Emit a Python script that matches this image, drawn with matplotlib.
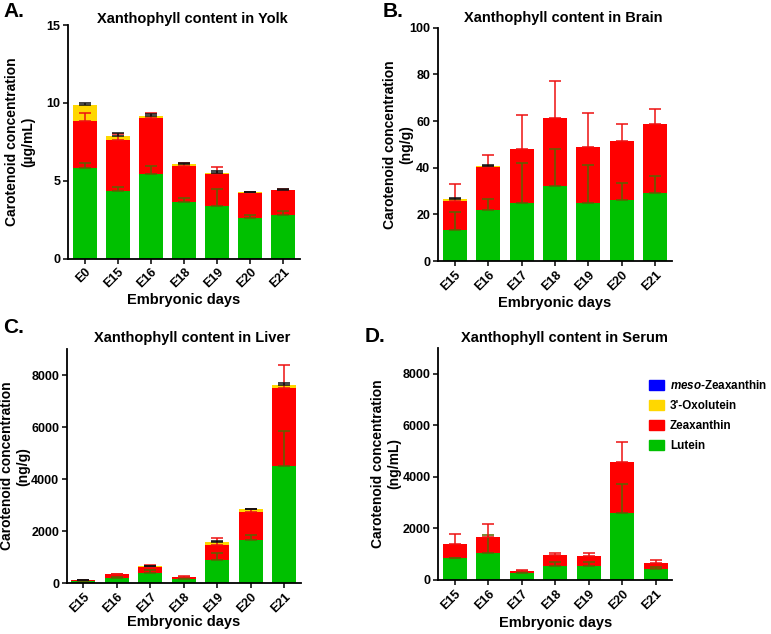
import numpy as np
import matplotlib.pyplot as plt
from matplotlib.patches import Patch

plt.rcParams['font.family'] = ['Liberation Sans', 'DejaVu Sans']
plt.rcParams['font.weight'] = 'bold'
plt.rcParams['mathtext.fontset'] = 'custom'
plt.rcParams['mathtext.it'] = 'Liberation Sans:italic:bold'
plt.rcParams['mathtext.rm'] = 'Liberation Sans:bold'

# ---- data (segment heights) ----
yolk_days = ["E0", "E15", "E16", "E18", "E19", "E20", "E21"]
yolk_lut = [5.83, 4.34, 5.43, 3.62, 3.40, 2.60, 2.80]
yolk_zea = [3.00, 3.27, 3.57, 2.34, 2.05, 1.62, 1.57]
yolk_oxo = [1.03, 0.28, 0.15, 0.10, 0.06, 0.04, 0.05]
yolk_lut_err = [0.32, 0.27, 0.49, 0.24, 1.06, 0.21, 0.22]
yolk_zea_err = [0.49, 0.41, 0.33, 0.15, 0.42, 0.05, 0.08]
yolk_oxo_err = [0.13, 0.15, 0.11, 0.07, 0.08, 0.03, 0.06]

days = ["E15", "E16", "E17", "E18", "E19", "E20", "E21"]

brain_lut = [13.1, 21.7, 24.9, 32.3, 25.0, 26.0, 29.1]
brain_zea = [12.6, 18.6, 23.0, 29.0, 23.9, 25.3, 29.8]
brain_oxo = [1.0, 0.5, 0.2, 0.2, 0.0, 0.0, 0.0]
brain_lut_err = [7.9, 5.0, 17.1, 15.8, 16.1, 7.6, 7.2]
brain_zea_err = [7.2, 5.0, 14.8, 15.8, 14.7, 7.6, 6.4]
brain_oxo_err = [0.3, 0.2, 0.0, 0.0, 0.0, 0.0, 0.0]

liver_lut = [60, 206, 386, 167, 875, 1672, 4520]
liver_zea = [55, 128, 231, 77, 604, 1068, 2980]
liver_oxo = [5, 10, 26, 5, 103, 102, 140]
liver_lut_err = [15, 30, 128, 20, 295, 193, 1345]
liver_zea_err = [10, 20, 90, 25, 244, 120, 900]
liver_oxo_err = [5, 0, 20, 0, 26, 13, 50]

serum_lut = [839, 1032, 258, 555, 542, 2581, 413]
serum_zea = [542, 645, 103, 400, 400, 1974, 232]
serum_oxo = [0, 0, 0, 0, 0, 0, 0]
serum_lut_err = [26, 710, 65, 129, 142, 1122, 103]
serum_zea_err = [387, 478, 26, 103, 90, 800, 129]
serum_oxo_err = [0, 0, 0, 0, 0, 0, 0]

meso = [0, 0, 0, 0, 0, 0, 0]

GREEN, RED, YELLOW, BLUE = "#00c000", "#ff0000", "#ffd700", "#0000ff"
GREEN_ERR, RED_ERR, OXO_ERR = "#5a6400", "#ee1111", "#111111"


def upper_err(ax, x, top, err, color):
    err = np.asarray(err, float)
    m = err > 0
    if m.any():
        ax.errorbar(x[m], np.asarray(top)[m], yerr=[np.zeros(m.sum()), err[m]],
                    fmt="none", ecolor=color, elinewidth=1.1, capsize=4.2,
                    capthick=1.1, zorder=5)


def panel(ax, labels, lut, zea, oxo, errs, ylim, yticks, unit, title,
          ylab_x, xlab_y, title_pos):
    x = np.arange(len(labels))
    lut, zea, oxo = map(np.array, (lut, zea, oxo))
    w = 0.72
    ax.bar(x, lut, w, color=GREEN, zorder=2)
    ax.bar(x, zea, w, bottom=lut, color=RED, zorder=2)
    ax.bar(x, oxo, w, bottom=lut + zea, color=YELLOW, zorder=2)
    ax.bar(x, meso, w, bottom=lut + zea + oxo, color=BLUE, zorder=2)
    upper_err(ax, x, lut, errs[0], GREEN_ERR)
    upper_err(ax, x, lut + zea, errs[1], RED_ERR)
    upper_err(ax, x, lut + zea + oxo, errs[2], OXO_ERR)

    ax.set_xlim(-0.5, len(labels) - 0.5)
    ax.set_ylim(*ylim)
    ax.set_yticks(yticks)
    ax.set_xticks(x)
    ax.set_xticklabels(labels, rotation=45, ha="right", rotation_mode="anchor")
    for s in ("top", "right"):
        ax.spines[s].set_visible(False)
    for s in ("left", "bottom"):
        ax.spines[s].set_linewidth(1.3)
    ax.tick_params(labelsize=9, width=1.1, length=3.5, pad=2)
    ax.set_ylabel("Carotenoid concentration\n" + unit, fontsize=10,
                  fontweight="bold", linespacing=1.2)
    ax.yaxis.set_label_coords(ylab_x, 0.5)
    ax.set_xlabel("Embryonic days", fontsize=10.5, fontweight="bold")
    ax.xaxis.set_label_coords(0.5, xlab_y)
    ax.text(title_pos[0], title_pos[1], title, transform=ax.transAxes,
            ha="center", va="baseline", fontsize=10.5, fontweight="bold")


fig = plt.figure(figsize=(7.71, 6.34), dpi=100)
W, H = 771, 634


def add(l, t, r, b):
    return fig.add_axes([l / W, 1 - b / H, (r - l) / W, (b - t) / H])


axA = add(68, 25, 300, 258.5)
axB = add(438, 27.7, 672, 261)
axC = add(66.7, 349.3, 301, 583)
axD = add(438.3, 347.7, 672.3, 580)

panel(axA, yolk_days, yolk_lut, yolk_zea, yolk_oxo,
      (yolk_lut_err, yolk_zea_err, yolk_oxo_err), (0, 15), [0, 5, 10, 15],
      "(\u00b5g/mL)", "Xanthophyll content in Yolk", -0.142, -0.148, (0.534, 1.009))
panel(axB, days, brain_lut, brain_zea, brain_oxo,
      (brain_lut_err, brain_zea_err, brain_oxo_err), (0, 100), range(0, 101, 20),
      "(ng/g)", "Xanthophyll content in Brain", -0.107, -0.15, (0.534, 1.026))
panel(axC, days, liver_lut, liver_zea, liver_oxo,
      (liver_lut_err, liver_zea_err, liver_oxo_err), (0, 9000), range(0, 8001, 2000),
      "(ng/g)", "Xanthophyll content in Liver", -0.155, -0.135, (0.534, 1.033))
panel(axD, days, serum_lut, serum_zea, serum_oxo,
      (serum_lut_err, serum_zea_err, serum_oxo_err), (0, 9000), range(0, 8001, 2000),
      "(ng/mL)", "Xanthophyll content in Serum", -0.16, -0.155, (0.541, 1.026))

handles = [Patch(color=BLUE, label=r"$\it{meso}$-Zeaxanthin"),
           Patch(color=YELLOW, label="3'-Oxolutein"),
           Patch(color=RED, label="Zeaxanthin"),
           Patch(color=GREEN, label="Lutein")]
axD.legend(handles=handles, loc="upper left", bbox_to_anchor=(0.9, 0.865),
           frameon=False, fontsize=8.4, borderpad=0, borderaxespad=0,
           handlelength=1.3, handleheight=1.05, handletextpad=0.5,
           labelspacing=0.65)

for lab, (px, py) in zip("ABCD", [(3, 17), (383, 17), (3, 333), (365, 342)]):
    fig.text(px / W, 1 - py / H, lab + ".", fontsize=15, fontweight="bold",
             va="baseline", ha="left")

fig.savefig("out.png", dpi=100)
